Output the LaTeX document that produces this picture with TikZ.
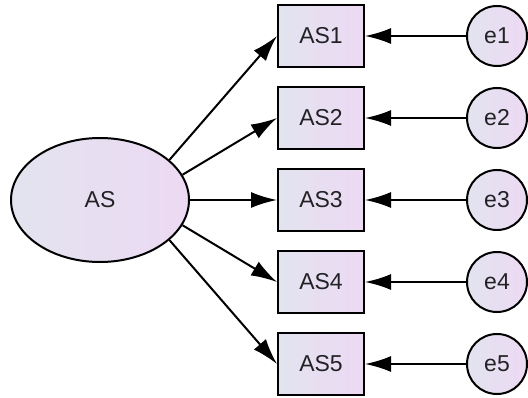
\documentclass[tikz,border=0pt]{standalone}
\usepackage{fontspec}
\setmainfont{Liberation Sans}
\usetikzlibrary{arrows.meta,shapes.geometric}
\definecolor{shadeleft}{RGB}{226,228,240}
\definecolor{shaderight}{RGB}{237,217,243}
\definecolor{labeltext}{RGB}{34,34,38}
\begin{document}
\begin{tikzpicture}[x=1pt,y=-1pt,
	every node/.style={draw,line width=2pt,left color=shadeleft,right color=shaderight,
		text=labeltext,font=\fontsize{23}{27}\selectfont,inner sep=0pt},
	latent/.style={ellipse,minimum width=178pt,minimum height=124pt},
	observed/.style={rectangle,minimum width=86pt,minimum height=62pt},
	error/.style={circle,minimum size=60pt},
	path/.style={line width=2pt,-{Latex[length=26pt,width=16pt]}}]
	\useasboundingbox (0,0) rectangle (528,398);
	\node[latent] (AS) at (100,200) {AS};
	\node[observed] (AS1) at (321,36) {AS1};
	\node[observed] (AS2) at (321,118) {AS2};
	\node[observed] (AS3) at (321,200) {AS3};
	\node[observed] (AS4) at (321,282) {AS4};
	\node[observed] (AS5) at (321,364) {AS5};
	\node[error] (e1) at (497,36) {e1};
	\node[error] (e2) at (497,118) {e2};
	\node[error] (e3) at (497,200) {e3};
	\node[error] (e4) at (497,282) {e4};
	\node[error] (e5) at (497,364) {e5};
	
	\path[path] (AS.30) edge (AS1.west)
	(AS.17) edge (AS2.west)
	(AS.0) edge (AS3.west)
	(AS.343) edge (AS4.west)
	(AS.330) edge (AS5.west);
	\path[path] (e1) edge (AS1)
	(e2) edge (AS2)
	(e3) edge (AS3)
	(e4) edge (AS4)
	(e5) edge (AS5);
\end{tikzpicture}
\end{document}
